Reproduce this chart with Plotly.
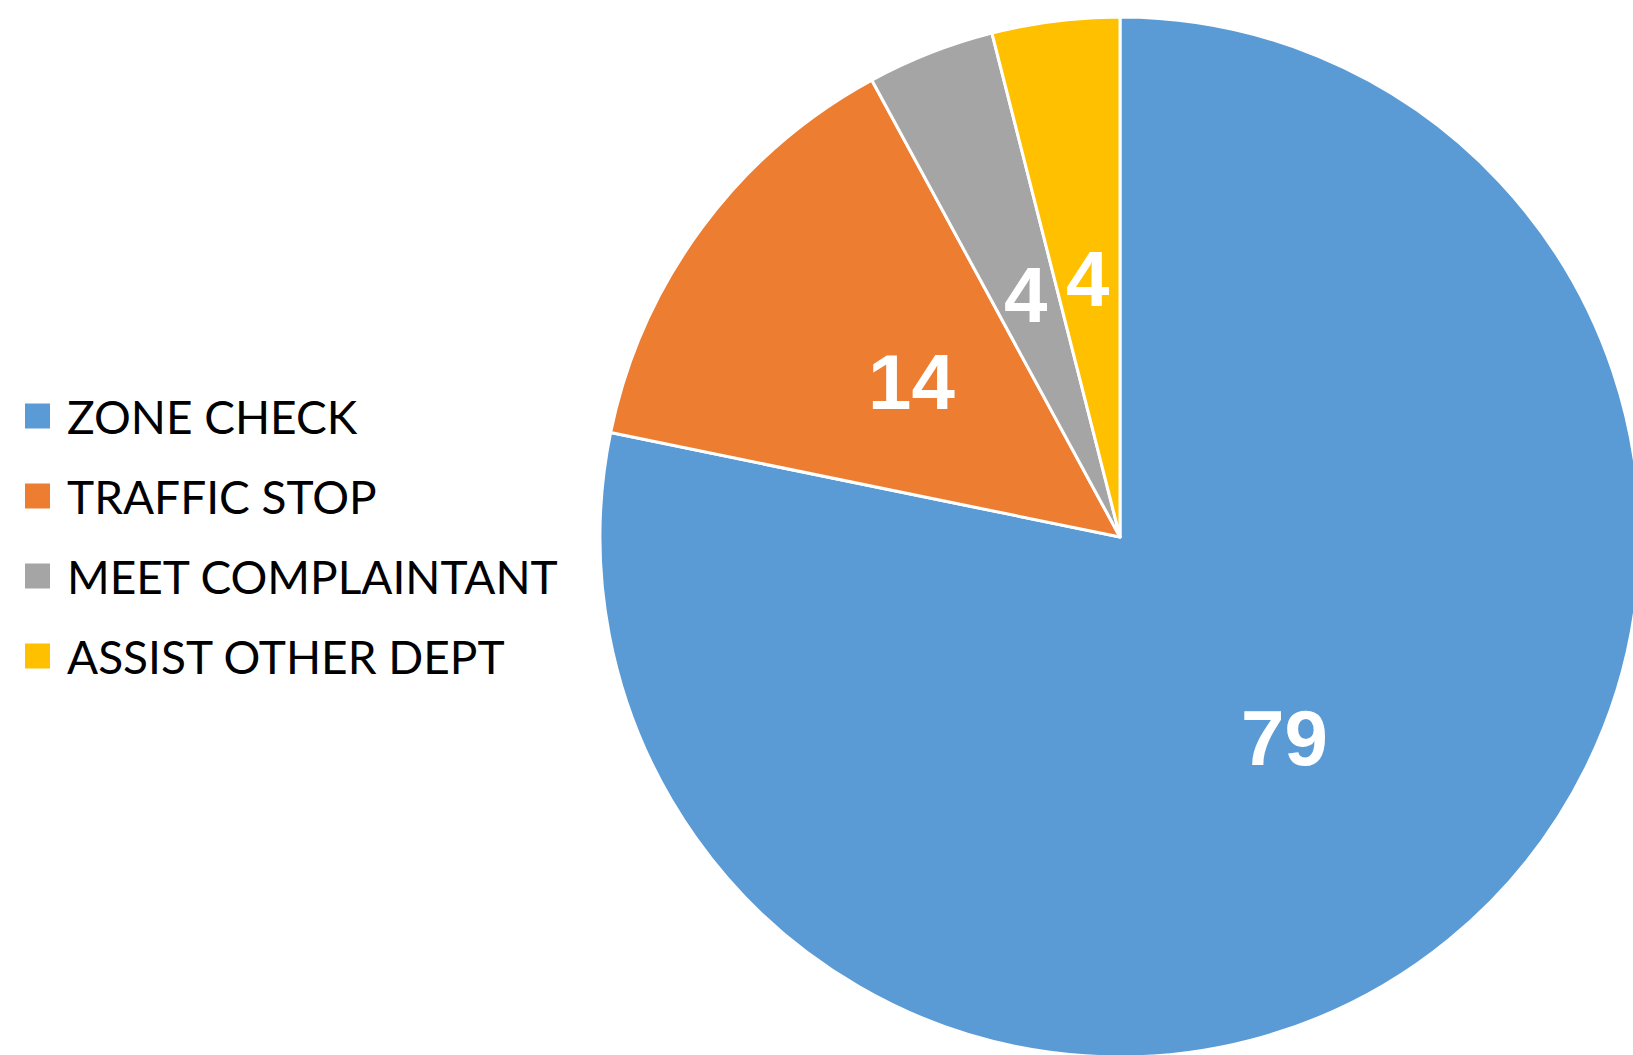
import numpy as np
import plotly.graph_objects as go

categories = ["ZONE CHECK", "TRAFFIC STOP", "MEET COMPLAINTANT", "ASSIST OTHER DEPT"]
values = [79, 14, 4, 4]
colors = ["#5B9BD5", "#ED7D31", "#A5A5A5", "#FFC000"]

# figure slightly larger than the window so the pie can bleed off the right edge
W, H = 1650, 1060
CX, CY, R = 1120, 537, 520  # pie centre / radius in px (from top-left)

pie_x = [(CX - R) / W, (CX + R) / W]
pie_y = [(H - CY - R) / H, (H - CY + R) / H]

fig = go.Figure()
fig.add_trace(go.Pie(
    labels=categories,
    values=values,
    sort=False,
    direction="clockwise",
    rotation=0,
    marker=dict(colors=colors, line=dict(color="white", width=3)),
    textinfo="none",
    showlegend=False,
    hoverinfo="label+value",
    domain=dict(x=pie_x, y=pie_y),
))

# data labels at half radius along each slice bisector, on a hidden axis matching the pie
vals = np.array(values, dtype=float)
mid = (np.cumsum(vals) - vals / 2) / vals.sum() * 2 * np.pi
lab_x = 0.5 * np.sin(mid)
lab_y = 0.5 * np.cos(mid)

annotations = []
for v, lx, ly in zip(values, lab_x, lab_y):
    annotations.append(dict(text=str(v), xref="x", yref="y", x=lx, y=ly,
                            showarrow=False, xanchor="center", yanchor="middle",
                            font=dict(family="Liberation Sans", size=78, color="white",
                                      weight="bold")))

# legend (wide row spacing as in the reference)
row0 = 416
gap = 80
sq = 25
shapes = []
for i, (cat, col) in enumerate(zip(categories, colors)):
    yc = row0 + i * gap
    shapes.append(dict(type="rect", xref="paper", yref="paper",
                       x0=25 / W, x1=(25 + sq) / W,
                       y0=1 - (yc + sq / 2) / H, y1=1 - (yc - sq / 2) / H,
                       fillcolor=col, line=dict(width=0)))
    annotations.append(dict(text=cat, xref="paper", yref="paper",
                            x=65 / W, y=1 - yc / H, xanchor="left", yanchor="middle",
                            showarrow=False,
                            font=dict(family="Lato", size=46, color="black")))

fig.update_layout(
    width=W, height=H,
    margin=dict(l=0, r=0, t=0, b=0),
    paper_bgcolor="white", plot_bgcolor="rgba(0,0,0,0)",
    xaxis=dict(domain=pie_x, range=[-1, 1], visible=False, fixedrange=True),
    yaxis=dict(domain=pie_y, range=[-1, 1], visible=False, fixedrange=True),
    shapes=shapes, annotations=annotations,
)

fig.write_html(
    "out.html",
    config={"displayModeBar": False},
    post_script="document.body.style.margin='0';"
                "document.body.style.overflow='hidden';"
                "document.documentElement.style.overflow='hidden';",
)
